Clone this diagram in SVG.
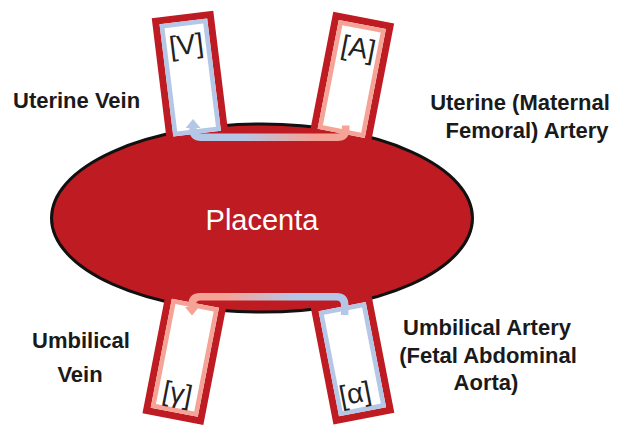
<svg xmlns="http://www.w3.org/2000/svg" width="634" height="426" viewBox="0 0 634 426">
  <style>
    .lbl { font-family: "Liberation Sans", Arial, sans-serif; font-weight: bold; font-size: 22px; fill: #1a1a1a; }
    .tl { font-family: "Liberation Sans", Arial, sans-serif; font-size: 28px; fill: #222222; text-anchor: middle; }
    .outer { fill: #ffffff; stroke: #be1b22; stroke-width: 7; }
    .in-blue { fill: none; stroke: #b4c7e7; stroke-width: 4.5; }
    .in-red { fill: none; stroke: #f4a396; stroke-width: 4.5; }
    .flow { fill: none; stroke-width: 7.5; }
  </style>
  <defs>
    <linearGradient id="gTop" gradientUnits="userSpaceOnUse" x1="243" y1="0" x2="312" y2="0">
      <stop offset="0" stop-color="#b4c7e7"/>
      <stop offset="1" stop-color="#f4a396"/>
    </linearGradient>
    <linearGradient id="gBot" gradientUnits="userSpaceOnUse" x1="225" y1="0" x2="295" y2="0">
      <stop offset="0" stop-color="#f4a396"/>
      <stop offset="1" stop-color="#b4c7e7"/>
    </linearGradient>
    <marker id="headBlue" viewBox="0 0 9 15" refX="0.5" refY="7.5" markerWidth="9" markerHeight="15" markerUnits="userSpaceOnUse" orient="auto">
      <path d="M0,0 L9,7.5 L0,15 Z" fill="#b4c7e7"/>
    </marker>
    <marker id="headRed" viewBox="0 0 9 15" refX="0.5" refY="7.5" markerWidth="9" markerHeight="15" markerUnits="userSpaceOnUse" orient="auto">
      <path d="M0,0 L9,7.5 L0,15 Z" fill="#f4a396"/>
    </marker>
  </defs>

  <g id="placenta">
    <ellipse cx="262" cy="218" rx="210.5" ry="94" fill="#be1b22" stroke="#111111" stroke-width="3"/>
    <text x="262" y="230" font-family="'Liberation Sans', Arial, sans-serif" font-size="29" fill="#ffffff" text-anchor="middle">Placenta</text>
  </g>

  <g id="tube-v" transform="translate(182.5,14.5) rotate(-7)">
    <rect class="outer" x="-27.5" y="3.5" width="55" height="120"/>
    <rect class="in-blue" x="-21.75" y="9.25" width="43.5" height="108.5"/>
    <text class="tl" x="0" y="40">[V]</text>
  </g>

  <g id="tube-a" transform="translate(363.7,17.6) rotate(11)">
    <rect class="outer" x="-27.5" y="3.5" width="55" height="118"/>
    <rect class="in-red" x="-21.75" y="9.25" width="43.5" height="106.5"/>
    <text class="tl" x="0.5" y="40">[A]</text>
  </g>

  <g id="tube-gamma" transform="translate(172.9,419.1) rotate(11)">
    <rect class="outer" x="-27.5" y="-121.5" width="55" height="118"/>
    <rect class="in-red" x="-21.75" y="-115.75" width="43.5" height="106.5"/>
    <text class="tl" x="-0.5" y="-17">[γ]</text>
  </g>

  <g id="tube-alpha" transform="translate(363.9,418.6) rotate(-11)">
    <rect class="outer" x="-27.5" y="-117.5" width="55" height="114"/>
    <rect class="in-blue" x="-21.75" y="-111.75" width="43.5" height="102.5"/>
    <text class="tl" x="-4" y="-17">[α]</text>
  </g>

  <g id="connectors">
    <path class="flow" stroke="url(#gTop)" marker-end="url(#headBlue)" d="M345.7,125.5 V129 Q345.7,137.3 337.4,137.3 H201.3 Q193,137.3 193,129 V127.5"/>
    <path class="flow" stroke="url(#gBot)" marker-end="url(#headRed)" d="M344.7,315 V305 Q344.7,296.7 336.4,296.7 H200.3 Q192,296.7 192,305 V307"/>
  </g>

  <g id="labels">
    <text class="lbl" x="13" y="108">Uterine Vein</text>
    <text class="lbl" x="520" y="110" text-anchor="middle">Uterine (Maternal</text>
    <text class="lbl" x="527" y="138" text-anchor="middle">Femoral) Artery</text>
    <text class="lbl" x="81" y="348" text-anchor="middle">Umbilical</text>
    <text class="lbl" x="80" y="382" text-anchor="middle">Vein</text>
    <text class="lbl" x="487" y="335" text-anchor="middle">Umbilical Artery</text>
    <text class="lbl" x="488" y="363" text-anchor="middle">(Fetal Abdominal</text>
    <text class="lbl" x="486" y="390" text-anchor="middle">Aorta)</text>
  </g>
</svg>
